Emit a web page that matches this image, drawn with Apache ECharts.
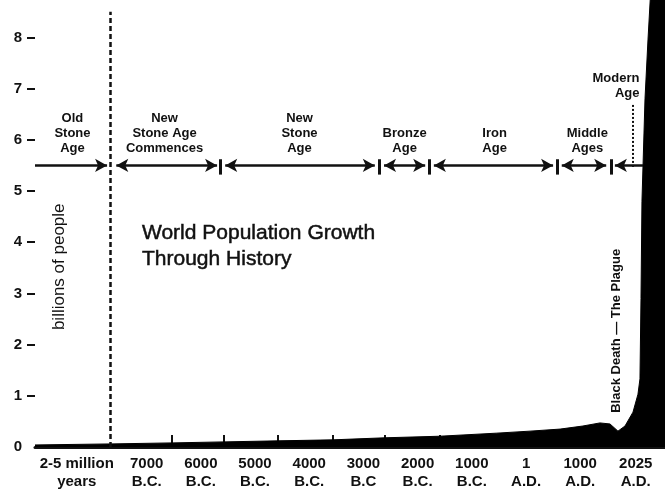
<!DOCTYPE html>
<html><head><meta charset="utf-8">
<script src="https://cdn.jsdelivr.net/npm/echarts@6/dist/echarts.min.js"></script>
<style>html,body{margin:0;padding:0;background:#fff}#c{width:665px;height:491px}</style>
</head><body><div id="c"></div>
<script>
// x axis is in years (negative = B.C.)
const xLabelYears = [-8290, -7000, -6000, -5000, -4000, -3000, -2000, -1000, 1, 1000, 2025];
const xLabelTexts = ['2-5 million\nyears', '7000\nB.C.', '6000\nB.C.', '5000\nB.C.', '4000\nB.C.', '3000\nB.C', '2000\nB.C.', '1000\nB.C.', '1\nA.D.', '1000\nA.D.', '2025\nA.D.'];
const xMinorTicks = [-6530, -5570, -4580, -3560, -2600, -1600, -550];
const yLabels = [0, 1, 2, 3, 4, 5, 6, 7, 8];
const yTicks = [1, 2, 3, 4, 5, 6, 7, 8];

// population curve (billions)
const popYears    = [-9060, -7675, -6530, -5570, -4580, -3560, -2600, -1600, -550, 75, 630, 1050, 1365, 1550, 1697, 1827, 1974, 2066, 2103, 2122, 2140, 2196, 2251, 2306, 2565];
const popBillions = [0.04, 0.06, 0.08, 0.10, 0.12, 0.14, 0.18, 0.21, 0.27, 0.31, 0.35, 0.41, 0.47, 0.45, 0.31, 0.41, 0.68, 1.03, 1.33, 2.9, 4.8, 6.8, 7.95, 9.0, 9.0];

// historical ages
const ageNames  = ['Old\nStone\nAge', 'New\nStone Age\nCommences', 'New\nStone\nAge', 'Bronze\nAge', 'Iron\nAge', 'Middle\nAges', 'Modern\nAge'];
const ageStart  = [-9060, -7560, -5550, -2620, -1700, 660, 1640];
const ageEnd    = [-7730, -5700, -2790, -1860, 500, 1480, 2160];
const ageLabelX = [-8360, -6660, -4170, -2230, -570, 1140, 2103];
const ageBars   = [-5650, -2710, -1790, 570, 1570];
const arrowLevel = 5.5;
const stoneAgeDivider = -7675;
const modernPointer = 1974;

const FONT = '"Liberation Sans", Arial, Helvetica, sans-serif';
const INK = '#111';

const lines = [];
// dashed divider
lines.push([{coord: [stoneAgeDivider, 0], symbol: 'none', lineStyle: {type: [5, 3], width: 2.5, color: INK}},
            {coord: [stoneAgeDivider, 8.5], symbol: 'none'}]);
// age arrows
ageNames.forEach((n, i) => {
  lines.push([{coord: [ageStart[i], arrowLevel], symbol: i === 0 ? 'none' : 'arrow', symbolSize: [10, 12], lineStyle: {width: 2.5, color: INK, type: 'solid'}},
              {coord: [ageEnd[i], arrowLevel], symbol: i === ageNames.length - 1 ? 'none' : 'arrow', symbolSize: [10, 12]}]);
});
// bars between ages
ageBars.forEach(b => {
  lines.push([{coord: [b, 5.32], symbol: 'none', lineStyle: {width: 3, color: INK, type: 'solid'}},
              {coord: [b, 5.62], symbol: 'none'}]);
});
// modern age pointer
lines.push([{coord: [modernPointer, 5.47], symbol: 'none', lineStyle: {width: 2, color: INK, type: [2, 2]}},
            {coord: [modernPointer, 6.72], symbol: 'none'}]);

const points = [];
ageNames.forEach((n, i) => {
  const modern = i === ageNames.length - 1;
  points.push({
    coord: [ageLabelX[i], modern ? 6.74 : 5.67],
    label: {show: true, formatter: n, position: [0, 0], align: modern ? 'right' : 'center', verticalAlign: 'bottom',
            fontFamily: FONT, fontWeight: 'bold', fontSize: 13, lineHeight: 15, color: INK}
  });
});
points.push({
  coord: [1680, 2.26],
  label: {show: true, formatter: 'Black Death — The Plague', position: [0, 0], align: 'center', verticalAlign: 'middle',
          rotate: 90, fontFamily: FONT, fontWeight: 'bold', fontSize: 13, color: INK}
});
points.push({
  coord: [-8600, 3.51],
  label: {show: true, formatter: 'billions of people', position: [0, 0], align: 'center', verticalAlign: 'middle',
          rotate: 90, fontFamily: FONT, fontSize: 17, color: INK}
});

const chart = echarts.init(document.getElementById('c'));
chart.setOption({
  animation: false,
  backgroundColor: '#fff',
  title: {
    text: 'World Population Growth\nThrough History',
    left: 142, top: 220, padding: 0,
    textStyle: {fontFamily: FONT, fontSize: 21, fontWeight: 'normal', lineHeight: 26, color: INK,
                textBorderColor: INK, textBorderWidth: 0.5}
  },
  grid: {left: 35, right: 0, top: 0, bottom: 43},
  xAxis: {
    type: 'value', min: -9060, max: 2565,
    splitLine: {show: false},
    axisLine: {show: true, onZero: false, lineStyle: {color: INK, width: 3}},
    axisTick: {show: true, inside: true, length: 12, customValues: xMinorTicks, lineStyle: {color: INK, width: 2}},
    axisLabel: {
      customValues: xLabelYears, margin: 8,
      formatter: v => { const i = xLabelYears.indexOf(v); return i >= 0 ? xLabelTexts[i] : ''; },
      fontFamily: FONT, fontWeight: 'bold', fontSize: 15, lineHeight: 18, color: INK
    }
  },
  yAxis: {
    type: 'value', min: 0, max: 8.73, position: 'left',
    splitLine: {show: false},
    axisLine: {show: false, onZero: false},
    axisTick: {show: true, length: 8, customValues: yTicks, lineStyle: {color: INK, width: 2}},
    axisLabel: {customValues: yLabels, margin: 13, fontFamily: FONT, fontWeight: 'bold', fontSize: 15, color: INK}
  },
  series: [{
    type: 'line',
    data: popYears.map((y, i) => [y, popBillions[i]]),
    symbol: 'none',
    lineStyle: {color: '#000', width: 1},
    areaStyle: {color: '#000', opacity: 1},
    silent: true,
    markLine: {silent: true, symbol: ['arrow', 'arrow'], label: {show: false}, data: lines},
    markPoint: {silent: true, symbol: 'circle', symbolSize: 1, itemStyle: {color: 'rgba(0,0,0,0)'}, data: points}
  }]
});
</script></body></html>
